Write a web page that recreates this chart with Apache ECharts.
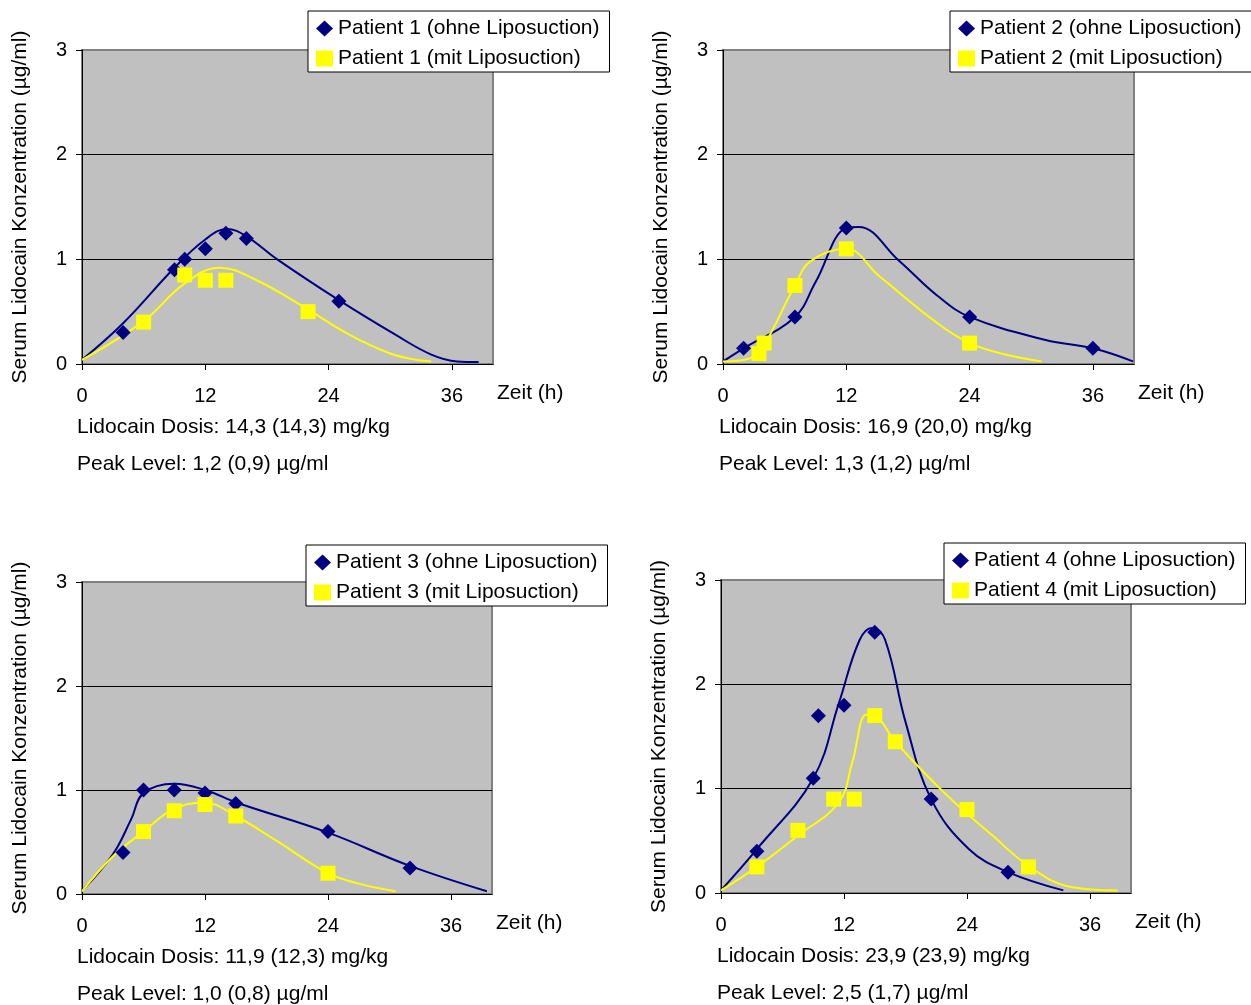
<!DOCTYPE html>
<html>
<head>
<meta charset="utf-8">
<script src="https://cdn.jsdelivr.net/npm/echarts@6/dist/echarts.min.js"></script>
<style>
html,body{margin:0;padding:0;background:#fff;}
#chart{width:1251px;height:1005px;}
</style>
</head>
<body>
<div id="chart"></div>
<script>
// ---------- DATA ----------
const xTickValues = [0, 12, 24, 36];
const yTickValues = [0, 1, 2, 3];
const xAxisTitle = 'Zeit (h)';
const yAxisTitle = 'Serum Lidocain Konzentration (µg/ml)';

const patientNames = ['Patient 1', 'Patient 2', 'Patient 3', 'Patient 4'];
const doseTexts = ['Lidocain Dosis: 14,3 (14,3) mg/kg', 'Lidocain Dosis: 16,9 (20,0) mg/kg', 'Lidocain Dosis: 11,9 (12,3) mg/kg', 'Lidocain Dosis: 23,9 (23,9) mg/kg'];
const peakTexts = ['Peak Level: 1,2 (0,9) µg/ml', 'Peak Level: 1,3 (1,2) µg/ml', 'Peak Level: 1,0 (0,8) µg/ml', 'Peak Level: 2,5 (1,7) µg/ml'];

// measured points (hours, µg/ml)
const p1OhneX = [4, 9, 10, 12, 14, 16, 25];
const p1OhneY = [0.3, 0.9, 1.0, 1.1, 1.25, 1.2, 0.6];
const p1MitX = [6, 10, 12, 14, 22];
const p1MitY = [0.4, 0.85, 0.8, 0.8, 0.5];

const p2OhneX = [2, 7, 12, 24, 36];
const p2OhneY = [0.15, 0.45, 1.3, 0.45, 0.15];
const p2MitX = [3.5, 4, 7, 12, 24];
const p2MitY = [0.1, 0.2, 0.75, 1.1, 0.2];

const p3OhneX = [4, 6, 9, 12, 15, 24, 32];
const p3OhneY = [0.4, 1.0, 1.0, 0.97, 0.87, 0.6, 0.25];
const p3MitX = [6, 9, 12, 15, 24];
const p3MitY = [0.6, 0.8, 0.86, 0.75, 0.2];

const p4OhneX = [3.5, 9, 9.5, 12, 15, 20.5, 28];
const p4OhneY = [0.4, 1.1, 1.7, 1.8, 2.5, 0.9, 0.2];
const p4MitX = [3.5, 7.5, 11, 13, 15, 17, 24, 30];
const p4MitY = [0.25, 0.6, 0.9, 0.9, 1.7, 1.45, 0.8, 0.25];

// fitted curves
const p1OhneCurveX = [0, 4, 9, 12, 14.1, 16, 19, 25, 30.5, 34, 36.5, 38.6];
const p1OhneCurveY = [0.04, 0.39, 0.92, 1.19, 1.29, 1.22, 1.0, 0.61, 0.28, 0.09, 0.025, 0.02];
const p1MitCurveX = [0, 6, 10, 13.4, 17, 22, 26, 30, 32.5, 34];
const p1MitCurveY = [0.04, 0.41, 0.77, 0.92, 0.8, 0.52, 0.28, 0.1, 0.04, 0.025];

const p2OhneCurveX = [0, 2, 7, 9, 12, 13.2, 17.1, 20.9, 24, 31.4, 36, 39.9];
const p2OhneCurveY = [0.025, 0.15, 0.45, 0.78, 1.3, 1.31, 0.99, 0.65, 0.45, 0.23, 0.15, 0.025];
const p2MitCurveX = [0, 2.5, 3.8, 7, 8.5, 12, 15.2, 21, 24, 27.5, 31];
const p2MitCurveY = [0.025, 0.05, 0.15, 0.75, 0.98, 1.1, 0.84, 0.38, 0.2, 0.09, 0.025];

const p3OhneCurveX = [0, 3, 4.8, 6, 9, 12, 15.2, 24, 32, 39.5];
const p3OhneCurveY = [0.03, 0.38, 0.72, 0.97, 1.06, 1.0, 0.875, 0.59, 0.27, 0.026];
const p3MitCurveX = [0, 3, 6, 9, 11.9, 15, 19, 24, 27, 30.6];
const p3MitCurveY = [0.025, 0.36, 0.6, 0.82, 0.88, 0.75, 0.51, 0.2, 0.1, 0.026];

const p4OhneCurveX = [0, 3.5, 9, 11.5, 13.5, 14.75, 16, 18, 20.5, 24.2, 28, 33.4];
const p4OhneCurveY = [0.025, 0.42, 1.1, 1.82, 2.42, 2.54, 2.43, 1.64, 0.9, 0.42, 0.2, 0.025];
const p4MitCurveX = [0, 3.5, 7.5, 11.5, 12.8, 14.2, 15, 17, 21.9, 26.5, 30, 34, 38.7];
const p4MitCurveY = [0.025, 0.25, 0.55, 0.87, 1.25, 1.71, 1.7, 1.45, 0.95, 0.55, 0.26, 0.06, 0.025];

// ---------- BUILD ----------
const FONT = '"Liberation Sans", Arial, sans-serif';
const NAVY = '#000080';
const YELLOW = '#FFFF00';

const panels = [
  { ohne: [p1OhneX, p1OhneY], mit: [p1MitX, p1MitY], ohneC: [p1OhneCurveX, p1OhneCurveY], mitC: [p1MitCurveX, p1MitCurveY] },
  { ohne: [p2OhneX, p2OhneY], mit: [p2MitX, p2MitY], ohneC: [p2OhneCurveX, p2OhneCurveY], mitC: [p2MitCurveX, p2MitCurveY] },
  { ohne: [p3OhneX, p3OhneY], mit: [p3MitX, p3MitY], ohneC: [p3OhneCurveX, p3OhneCurveY], mitC: [p3MitCurveX, p3MitCurveY] },
  { ohne: [p4OhneX, p4OhneY], mit: [p4MitX, p4MitY], ohneC: [p4OhneCurveX, p4OhneCurveY], mitC: [p4MitCurveX, p4MitCurveY] }
];

// layout
const gridBoxes = [
  { left: 82, top: 50, width: 411, height: 314 },
  { left: 723, top: 50, width: 411, height: 314 },
  { left: 82, top: 582, width: 410, height: 312 },
  { left: 721, top: 580, width: 410, height: 313 }
];
const legendPos = [
  { left: 308, top: 11 },
  { left: 950, top: 11 },
  { left: 306, top: 545 },
  { left: 944, top: 543 }
];
const textLeft = [77, 719, 77, 717];

function zip(xs, ys) { return xs.map((x, i) => [x, ys[i]]); }

const grid = [], xAxis = [], yAxis = [], series = [], legend = [], graphic = [];

panels.forEach((p, i) => {
  const g = gridBoxes[i];
  grid.push(Object.assign({ show: true, backgroundColor: '#C0C0C0', borderColor: '#808080', borderWidth: 2, containLabel: false }, g));
  xAxis.push({
    type: 'value', gridIndex: i, min: 0, max: 40, interval: 12,
    axisLine: { show: true, onZero: false, lineStyle: { color: '#000', width: 1 } },
    axisTick: { show: true, length: 6, customValues: xTickValues, lineStyle: { color: '#000' } },
    axisLabel: { show: true, customValues: xTickValues, margin: 22, fontFamily: FONT, fontSize: 20, color: '#000' },
    splitLine: { show: false }
  });
  yAxis.push({
    type: 'value', gridIndex: i, min: 0, max: 3, interval: 1,
    name: yAxisTitle, nameLocation: 'middle', nameRotate: 90, nameGap: 51,
    nameTextStyle: { fontFamily: FONT, fontSize: 21, color: '#000' },
    axisLine: { show: true, lineStyle: { color: '#000', width: 1 } },
    axisTick: { show: true, length: 6, lineStyle: { color: '#000' } },
    axisLabel: { show: true, margin: 15, fontFamily: FONT, fontSize: 20, color: '#000', customValues: yTickValues },
    splitLine: { show: true, showMinLine: false, showMaxLine: false, lineStyle: { color: '#000', width: 1 } }
  });
  const nOhne = patientNames[i] + ' (ohne Liposuction)';
  const nMit = patientNames[i] + ' (mit Liposuction)';
  series.push({
    name: nOhne + ' Kurve', type: 'line', xAxisIndex: i, yAxisIndex: i,
    data: zip(p.ohneC[0], p.ohneC[1]), smooth: 0.4, showSymbol: false, symbol: 'none',
    lineStyle: { color: NAVY, width: 2 }, itemStyle: { color: NAVY }, z: 2, silent: true
  });
  series.push({
    name: nMit + ' Kurve', type: 'line', xAxisIndex: i, yAxisIndex: i,
    data: zip(p.mitC[0], p.mitC[1]), smooth: 0.4, showSymbol: false, symbol: 'none',
    lineStyle: { color: YELLOW, width: 2 }, itemStyle: { color: YELLOW }, z: 3, silent: true
  });
  series.push({
    name: nOhne, type: 'scatter', xAxisIndex: i, yAxisIndex: i,
    data: zip(p.ohne[0], p.ohne[1]), symbol: 'diamond', symbolSize: 15,
    itemStyle: { color: NAVY, opacity: 1 }, z: 4
  });
  series.push({
    name: nMit, type: 'scatter', xAxisIndex: i, yAxisIndex: i,
    data: zip(p.mit[0], p.mit[1]), symbol: 'rect', symbolSize: 15,
    itemStyle: { color: YELLOW, opacity: 1 }, z: 5
  });
  legend.push({
    data: [nOhne, nMit], left: legendPos[i].left, top: legendPos[i].top, orient: 'vertical',
    backgroundColor: '#fff', borderColor: '#000', borderWidth: 1, padding: [7, 10, 3, 8],
    itemGap: 9, itemWidth: 17, itemHeight: 16, selectedMode: false,
    textStyle: { fontFamily: FONT, fontSize: 21, color: '#000' }
  });
  const bottom = g.top + g.height;
  const right = g.left + g.width;
  graphic.push({ type: 'text', x: right + 4, y: bottom + 29, style: { text: xAxisTitle, font: '21px ' + FONT, fill: '#000', verticalAlign: 'middle' } });
  graphic.push({ type: 'text', x: textLeft[i], y: bottom + 63, style: { text: doseTexts[i], font: '21px ' + FONT, fill: '#000', verticalAlign: 'middle' } });
  graphic.push({ type: 'text', x: textLeft[i], y: bottom + 100, style: { text: peakTexts[i], font: '21px ' + FONT, fill: '#000', verticalAlign: 'middle' } });
});

const chart = echarts.init(document.getElementById('chart'), null, { renderer: 'canvas' });
chart.setOption({
  animation: false,
  backgroundColor: '#fff',
  textStyle: { fontFamily: FONT },
  grid, xAxis, yAxis, series, legend, graphic
});
</script>
</body>
</html>
